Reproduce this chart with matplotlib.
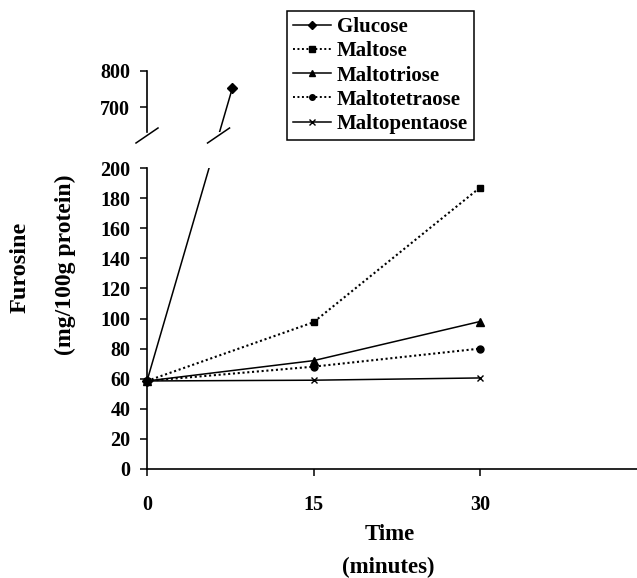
import matplotlib
matplotlib.use("Agg")
import matplotlib.pyplot as plt
from matplotlib.lines import Line2D
from matplotlib.transforms import IdentityTransform
import numpy as np

plt.rcParams['font.family'] = ['Liberation Serif', 'DejaVu Serif']
plt.rcParams['font.weight'] = 'bold'

# data (time in minutes, furosine mg/100g protein)
times = [0, 15, 30]
glucose_t = [0, 7.7]
glucose_v = [58.5, 754]
maltose = [58.5, 97.5, 187]
maltotriose = [58.5, 72, 98]
maltotetraose = [58.5, 68, 80]
maltopentaose = [58.5, 59, 60.5]

xticks = [0, 15, 30]
yticks_low = [0, 20, 40, 60, 80, 100, 120, 140, 160, 180, 200]
yticks_high = [700, 800]

W, H = 637, 578
fig = plt.figure(figsize=(W / 100, H / 100), dpi=100)

left = 147 / W
width = 1 - left
ax = fig.add_axes([left, (H - 469) / H, width, (469 - 168) / H])
ax_top = fig.add_axes([left, (H - 132) / H, width, (132 - 71) / H], sharex=ax)

xmax = (W - 147) / 11.1
ax.set_xlim(0, xmax)
ax.set_ylim(0, 200)
ax_top.set_ylim(632, 800)
ax.set_autoscale_on(False)
ax_top.set_autoscale_on(False)

for a in (ax, ax_top):
    for s in ('top', 'right'):
        a.spines[s].set_visible(False)
    a.spines['left'].set_linewidth(1.2)
    a.spines['bottom'].set_linewidth(1.2)
    a.tick_params(direction='out', length=5, width=1.1, labelsize=14.5, colors='black')
ax_top.spines['bottom'].set_visible(False)
ax_top.tick_params(axis='x', bottom=False, labelbottom=False)
ax.tick_params(axis='y', pad=7)
ax_top.tick_params(axis='y', pad=7)
ax.tick_params(axis='x', pad=14)

ax.set_xticks(xticks)
ax.set_yticks(yticks_low)
ax_top.set_yticks(yticks_high)

dot = (0, (1, 1.3))
kw = dict(color='black', clip_on=False, zorder=3)
ax.plot(times, maltose, linestyle=dot, lw=1.5, marker='s', ms=5, **kw)
ax.plot(times, maltotriose, linestyle='-', lw=1.1, marker='^', ms=6, **kw)
ax.plot(times, maltotetraose, linestyle=dot, lw=1.5, marker='o', ms=5, **kw)
ax.plot(times, maltopentaose, linestyle='-', lw=1.1, marker='x', ms=5, mew=1, **kw)

# glucose: straight line in screen space across the axis break
p0 = ax.transData.transform((glucose_t[0], glucose_v[0]))
p1 = ax_top.transData.transform((glucose_t[1], glucose_v[1]))
pts = np.array([p0, p1])
for a in (ax, ax_top):
    d = a.transData.inverted().transform(pts)
    a.plot(d[:, 0], d[:, 1], color='black', lw=1.1, zorder=2)
ax.plot(glucose_t[:1], glucose_v[:1], 'D', color='black', ms=5, clip_on=False, zorder=2)
ax_top.plot(glucose_t[1:], glucose_v[1:], 'D', color='black', ms=5.5, clip_on=False, zorder=3)

# break marks
bot_px = ax_top.transAxes.transform((0, 0))
cy = bot_px[1] - 3.5
cx_line = np.interp(cy, [p0[1], p1[1]], [p0[0], p1[0]])
for cx in (bot_px[0], cx_line):
    fig.add_artist(Line2D([cx - 11, cx + 11], [cy - 7.5, cy + 7.5],
                          color='black', lw=1.1, transform=IdentityTransform()))

# legend
handles = [
    Line2D([], [], color='black', lw=1.1, linestyle='-', marker='D', ms=4),
    Line2D([], [], color='black', lw=1.4, linestyle=dot, marker='s', ms=4),
    Line2D([], [], color='black', lw=1.1, linestyle='-', marker='^', ms=4.5),
    Line2D([], [], color='black', lw=1.4, linestyle=dot, marker='o', ms=4),
    Line2D([], [], color='black', lw=1.1, linestyle='-', marker='x', ms=4, mew=1),
]
names = ['Glucose', 'Maltose', 'Maltotriose', 'Maltotetraose', 'Maltopentaose']
leg = fig.legend(handles, names, loc='upper left', bbox_to_anchor=(287 / W, 1 - 11 / H),
                 frameon=True, fancybox=False, edgecolor='black', framealpha=1,
                 prop={'size': 15, 'weight': 'bold'}, handlelength=1.8,
                 labelspacing=0.2, borderpad=0.3, handletextpad=0.3, borderaxespad=0)
leg.get_frame().set_linewidth(1.1)

fig.text(20 / W, 1 - 267 / H, 'Furosine', rotation=90, ha='center', va='center', fontsize=17.5)
fig.text(65 / W, 1 - 265 / H, '(mg/100g protein)', rotation=90, ha='center', va='center', fontsize=17)
fig.text(390 / W, 1 - 535 / H, 'Time', ha='center', va='center', fontsize=16.5)
fig.text(388 / W, 1 - 567 / H, '(minutes)', ha='center', va='center', fontsize=16.5)

fig.savefig('out.png', dpi=100)
